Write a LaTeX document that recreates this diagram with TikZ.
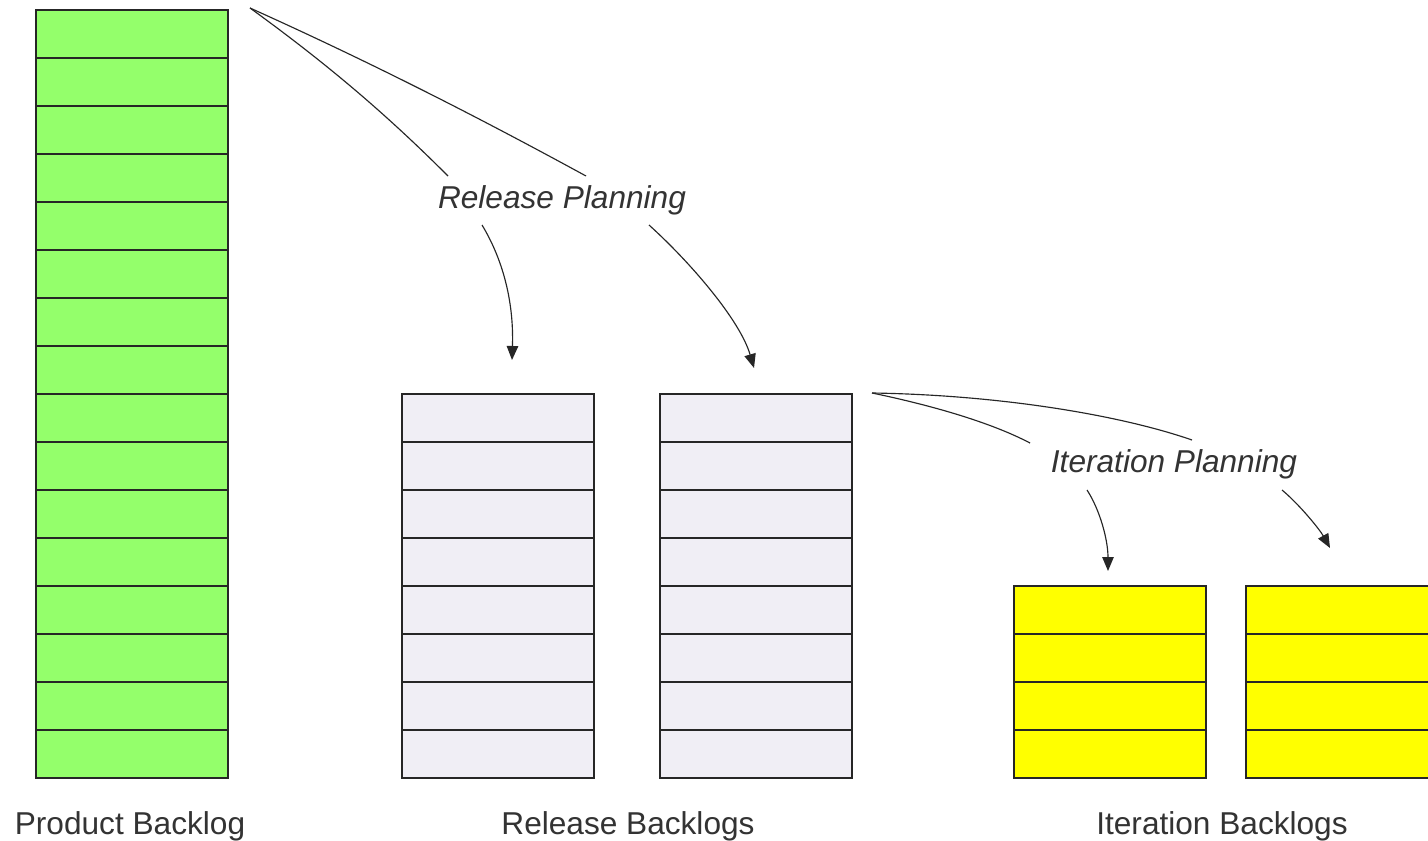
\documentclass[tikz,border=0pt]{standalone}
\usepackage{fontspec}
\setmainfont{Liberation Sans}
\usetikzlibrary{arrows.meta}
\definecolor{pbgreen}{RGB}{148,255,107}
\definecolor{rbgrey}{RGB}{240,238,245}
\definecolor{ibyellow}{RGB}{255,255,0}
\tikzstyle{item}= [rectangle, draw=black!85, line width=0.9pt, inner sep=0pt, minimum width=3.84cm, minimum height=0.96cm, anchor=north west]
\tikzstyle{link}= [draw=black!85, line width=0.65pt]
\tikzstyle{arr}= [link, -{Triangle[length=0.28cm,width=0.23cm]}]
\tikzstyle{lab}= [font=\fontsize{18}{21}\selectfont, text=black!80, anchor=base, inner sep=0pt]
\tikzstyle{plan}= [lab, font=\fontsize{18}{21}\selectfont\itshape]

\begin{document}
\begin{tikzpicture}[x=0.02cm, y=-0.02cm]
						\clip (0,0) rectangle (1428,841);
						\fill[white] (0,0) rectangle (1428,841);
						% product backlog
						\foreach \i in {1,...,16}
							\node[item, fill=pbgreen] (p\i) at (35, {9+(\i-1)*48}) {};
						% release backlogs
						\foreach \i in {1,...,8} {
							\node[item, fill=rbgrey] (ra\i) at (401, {393+(\i-1)*48}) {};
							\node[item, fill=rbgrey] (rb\i) at (659, {393+(\i-1)*48}) {};
						}
						% iteration backlogs
						\foreach \i in {1,...,4} {
							\node[item, fill=ibyellow] (ia\i) at (1013, {585+(\i-1)*48}) {};
							\node[item, fill=ibyellow] (ib\i) at (1245, {585+(\i-1)*48}) {};
						}
						\node[lab] (prodlab) at (130, 834) {Product Backlog};
						\node[lab] (rellab) at (628, 834) {Release Backlogs};
						\node[lab] (iterlab) at (1222, 834) {Iteration Backlogs};
						\node[plan] (relplan) at (562, 209) {Release Planning};
						\node[plan] (iterplan) at (1174, 473) {Iteration Planning};
						% release planning
						\coordinate (rs) at (250, 8);
						\coordinate (r1) at (448, 176);
						\coordinate (r2) at (586, 176);
						\coordinate (r3) at (482, 225);
						\coordinate (r4) at (649, 225);
						\coordinate (ra) at (512, 360);
						\coordinate (rb) at (754, 368);
						\draw[link](rs) .. controls (330, 66) and (388, 116) .. (r1);
						\draw[link](rs) .. controls (370, 62) and (476, 116) .. (r2);
						\draw[arr](r3) .. controls (502, 258) and (514, 300) .. (ra);
						\draw[arr](r4) .. controls (690, 262) and (740, 320) .. (rb);
						% iteration planning
						\coordinate (is) at (872, 393);
						\coordinate (i1) at (1030, 443);
						\coordinate (i2) at (1192, 440);
						\coordinate (i3) at (1087, 490);
						\coordinate (i4) at (1282, 490);
						\coordinate (ia) at (1108, 571);
						\coordinate (ib) at (1330, 548);
						\draw[link](is) .. controls (930, 405) and (990, 422) .. (i1);
						\draw[link](is) .. controls (1000, 395) and (1120, 415) .. (i2);
						\draw[arr](i3) .. controls (1100, 510) and (1108, 540) .. (ia);
						\draw[arr](i4) .. controls (1300, 505) and (1320, 530) .. (ib);
					\end{tikzpicture}
\end{document}
